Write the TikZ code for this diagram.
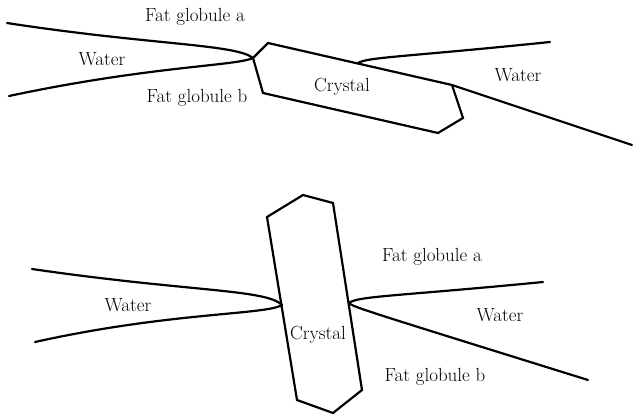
\documentclass[tikz,border=0pt]{standalone}
\begin{document}
\begin{tikzpicture}[x=1pt,y=-1pt,
  edge/.style={line width=2.2pt,line join=miter,line cap=round},
  lbl/.style={inner sep=0pt,font=\fontsize{19}{22}\selectfont}]
\useasboundingbox (0,0) rectangle (633,417);

% ---------- Upper panel: crystal lying across the interface ----------
\coordinate (c1a) at (268,43);
\coordinate (c1b) at (452,85);
\coordinate (c1c) at (463,118);
\coordinate (c1d) at (438,133);
\coordinate (c1e) at (263,93);
\coordinate (c1f) at (253,58);
\draw[edge] (c1a) -- (c1b) -- (c1c) -- (c1d) -- (c1e) -- (c1f) -- cycle;

\coordinate (u1) at (7,23);
\coordinate (u2) at (9,96);
\coordinate (u3) at (358,63);
\coordinate (u4) at (550,42);
\coordinate (u5) at (632,145);
\draw[edge] (u1) .. controls (150,45) and (236,44) .. (c1f);
\draw[edge] (u2) .. controls (150,66) and (236,66) .. (c1f);
\draw[edge] (u3) .. controls (368,57) and (405,57) .. (u4);
\draw[edge] (c1b) -- (u5);

\node[lbl] (fa1) at (195,17) {Fat globule a};
\node[lbl] (w1l) at (102,59) {Water};
\node[lbl] (fb1) at (197,98) {Fat globule b};
\node[lbl] (cr1) at (342,87) {Crystal};
\node[lbl] (w1r) at (518,75) {Water};

% ---------- Lower panel: crystal standing upright ----------
\coordinate (c2a) at (303,195);
\coordinate (c2b) at (333,203);
\coordinate (c2c) at (362,390);
\coordinate (c2d) at (333,413);
\coordinate (c2e) at (297,400);
\coordinate (c2f) at (267,217);
\draw[edge] (c2a) -- (c2b) -- (c2c) -- (c2d) -- (c2e) -- (c2f) -- cycle;

\coordinate (jl) at (282,305);
\coordinate (jr) at (349,303);
\coordinate (l1) at (32,269);
\coordinate (l2) at (35,342);
\coordinate (r1) at (543,282);
\coordinate (r2) at (588,380);
\draw[edge] (l1) .. controls (190,292) and (266,289) .. (jl);
\draw[edge] (l2) .. controls (170,312) and (266,315) .. (jl);
\draw[edge] (jr) .. controls (357,296) and (400,296) .. (r1);
\draw[edge] (jr) .. controls (353,307) and (360,309) .. (r2);

\node[lbl] (fa2) at (432,257) {Fat globule a};
\node[lbl] (w2l) at (128,305) {Water};
\node[lbl] (w2r) at (500,315) {Water};
\node[lbl] (cr2) at (318,335) {Crystal};
\node[lbl] (fb2) at (435,377) {Fat globule b};
\end{tikzpicture}
\end{document}
